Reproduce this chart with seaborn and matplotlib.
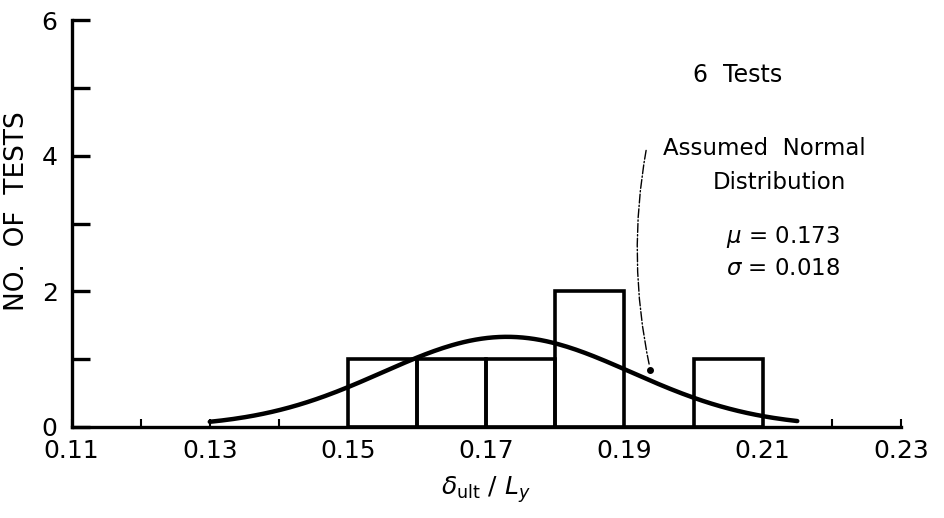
import numpy as np
import pandas as pd
import matplotlib
matplotlib.use("Agg")
import matplotlib.pyplot as plt
import seaborn as sns

# ---- data ----
bin_edges = [0.15, 0.16, 0.17, 0.18, 0.19, 0.20, 0.21]
bin_counts = [1, 1, 1, 2, 0, 1]
n_tests = 6
mu = 0.173
sigma = 0.018
curve_range = [0.13, 0.215]
x_tick_labels = ["0.11", "0.13", "0.15", "0.17", "0.19", "0.21", "0.23"]
y_tick_labels = ["0", "2", "4", "6"]

sns.set_style("white")
plt.rcParams['font.family'] = ['DejaVu Sans']
plt.rcParams['text.color'] = 'black'

fig = plt.figure(figsize=(9.45, 5.18), dpi=100)
ax = fig.add_axes([0.0757, 0.1757, 0.8777, 0.7853])

centers = [(a + b) / 2 for a, b in zip(bin_edges[:-1], bin_edges[1:])]
df = pd.DataFrame({"x": centers, "w": bin_counts})
sns.histplot(data=df, x="x", weights="w", bins=bin_edges, fill=False,
             color="black", linewidth=2.6, ax=ax)

# assumed normal curve scaled to counts
bw = bin_edges[1] - bin_edges[0]
xs = np.linspace(curve_range[0], curve_range[1], 200)
ys = n_tests * bw / (sigma * np.sqrt(2 * np.pi)) * np.exp(-0.5 * ((xs - mu) / sigma) ** 2)
sns.lineplot(x=xs, y=ys, color="black", linewidth=3.2, ax=ax)

ax.set_xlim(0.11, 0.23)
ax.set_ylim(0, 6)
for s in ["top", "right"]:
    ax.spines[s].set_visible(False)
for s in ["left", "bottom"]:
    ax.spines[s].set_linewidth(2.4)
    ax.spines[s].set_color("black")

xt = [float(t) for t in x_tick_labels]
ax.set_xticks(xt)
ax.set_xticklabels(x_tick_labels, fontsize=18)
ax.set_xticks([0.12, 0.14, 0.16, 0.18, 0.20, 0.22], minor=True)
ax.set_yticks([int(t) for t in y_tick_labels])
ax.set_yticklabels(y_tick_labels, fontsize=18)
ax.set_yticks([1, 3, 5], minor=True)
ax.tick_params(axis="x", which="both", direction="in", length=6, width=1.5,
               pad=9, bottom=True, colors="black")
ax.tick_params(axis="y", which="both", direction="in", length=13, width=2.4,
               pad=10, left=True, colors="black")
ax.set_xlabel(r"$\delta_{\mathrm{ult}}\ /\ L_y$", fontsize=18, labelpad=8, color="black")
ax.set_ylabel("NO.  OF  TESTS", fontsize=19, color="black")
ax.yaxis.set_label_coords(-0.05, 0.53)

# annotations
ax.text(0.2063, 5.19, "6  Tests", fontsize=17, ha="center", va="center")
ax.text(0.2103, 4.11, "Assumed  Normal", fontsize=16.5, ha="center", va="center")
ax.text(0.2124, 3.60, "Distribution", fontsize=16.5, ha="center", va="center")
ax.text(0.2129, 2.80, r"$\mu$ = 0.173", fontsize=16.5, ha="center", va="center")
ax.text(0.2129, 2.34, r"$\sigma$ = 0.018", fontsize=16.5, ha="center", va="center")

ax.plot([0.1937], [0.84], marker="o", color="black", markersize=4)
ax.annotate("", xy=(0.1937, 0.86), xytext=(0.1932, 4.12),
            arrowprops=dict(arrowstyle="-", color="black", linewidth=1.0,
                            linestyle="-.", connectionstyle="arc3,rad=0.1"))

fig.savefig("out.png", dpi=100)
